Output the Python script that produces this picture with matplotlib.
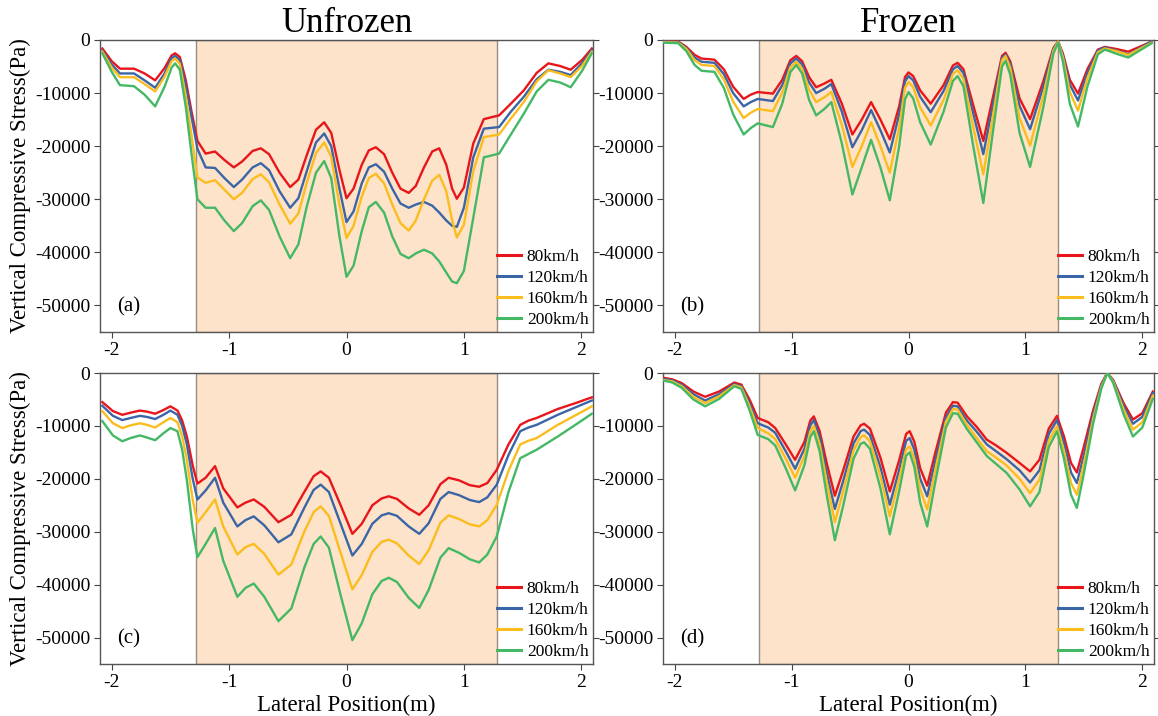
import matplotlib
matplotlib.use("Agg")
import matplotlib.pyplot as plt
from matplotlib.ticker import FixedLocator, FuncFormatter

plt.rcParams['font.family'] = ['Liberation Serif', 'DejaVu Serif']
plt.rcParams['axes.unicode_minus'] = False

speeds = ["80km/h", "120km/h", "160km/h", "200km/h"]
colors = ["#e8161b", "#3a65a6", "#fbbd1e", "#44b864"]
col_titles = ["Unfrozen", "Frozen"]
panel_tags = ["(a)", "(b)", "(c)", "(d)"]
x_ticks = [-2, -1, 0, 1, 2]
y_ticks = [0, -10000, -20000, -30000, -40000, -50000]
zone_half = 1.28

# ---- panel (a): unfrozen, upper ----
x_a = [-2.08, -2.00, -1.93, -1.81, -1.72, -1.63, -1.55, -1.49, -1.46, -1.42,
       -1.37, -1.32, -1.27, -1.20, -1.12, -1.04, -0.96, -0.89, -0.80, -0.73,
       -0.66, -0.57, -0.48, -0.41, -0.34, -0.26, -0.19, -0.13, -0.06, 0.00,
       0.06, 0.13, 0.19, 0.25, 0.32, 0.39, 0.46, 0.53, 0.59, 0.66,
       0.73, 0.79, 0.85, 0.90, 0.94, 1.00, 1.08, 1.17, 1.30, 1.40,
       1.51, 1.62, 1.72, 1.82, 1.91, 2.01, 2.09]
a_80 = [-1600, -4000, -5400, -5400, -6300, -7600, -5300, -2900, -2500, -3200,
        -7500, -13500, -19000, -21400, -21000, -22600, -24000, -22900, -20900, -20400,
        -21500, -25000, -27700, -26300, -21800, -16900, -15500, -17500, -24500, -29800,
        -28000, -23500, -20800, -20200, -21500, -25000, -28000, -28800, -27500, -24000,
        -21000, -20400, -23500, -28000, -29900, -27800, -19500, -14900, -14200, -12000,
        -9500, -6200, -4400, -4900, -5600, -3700, -1600]
a_120 = [-2000, -4600, -6300, -6300, -7600, -9000, -6300, -3400, -3000, -3800,
         -8500, -14500, -20500, -24000, -24100, -26000, -27700, -26300, -24000, -23200,
         -24500, -28500, -31600, -29800, -24800, -19300, -17600, -20000, -28000, -34300,
         -32300, -27000, -24000, -23400, -24800, -28000, -30800, -31600, -31000, -30500,
         -31200, -32500, -34000, -35000, -35200, -31600, -22100, -16700, -16400, -13500,
         -10700, -7400, -5600, -6000, -6600, -4300, -1900]
a_160 = [-2200, -5200, -7000, -7000, -8300, -9700, -6900, -4000, -3500, -4500,
         -10500, -18000, -25900, -26900, -26400, -28200, -30000, -28800, -26200, -25300,
         -26800, -31000, -34600, -32700, -27000, -21300, -19300, -22000, -31000, -37300,
         -35000, -29500, -26000, -25200, -27000, -31000, -34500, -35900, -34000, -30000,
         -26500, -25400, -28500, -34000, -37200, -34800, -24700, -18300, -17800, -14800,
         -11700, -7800, -5700, -6300, -7000, -4800, -2200]
a_200 = [-2500, -6000, -8500, -8700, -10300, -12500, -8800, -5200, -4400, -5600,
         -12500, -21500, -30000, -31600, -31600, -34000, -36000, -34500, -31300, -30200,
         -32000, -37000, -41100, -38500, -31500, -25000, -22800, -26000, -37000, -44600,
         -42500, -36000, -31500, -30500, -32500, -37000, -40300, -41100, -40200, -39500,
         -40200, -41700, -43800, -45500, -45800, -43500, -33500, -22100, -21400, -17800,
         -13900, -9700, -7500, -8000, -8900, -5700, -2500]

# ---- panel (b): frozen, upper ----
x_b = [-2.10, -1.97, -1.90, -1.83, -1.77, -1.66, -1.58, -1.50, -1.41, -1.35,
       -1.29, -1.16, -1.08, -1.01, -0.96, -0.91, -0.85, -0.79, -0.72, -0.66,
       -0.57, -0.48, -0.40, -0.32, -0.24, -0.16, -0.08, -0.03, 0.00, 0.04,
       0.10, 0.19, 0.30, 0.38, 0.42, 0.47, 0.55, 0.64, 0.73, 0.80,
       0.83, 0.87, 0.95, 1.04, 1.15, 1.24, 1.28, 1.32, 1.38, 1.45,
       1.53, 1.62, 1.68, 1.78, 1.88, 2.08]
b_80 = [-300, -300, -1300, -2800, -3500, -3700, -5500, -8800, -11100, -10300,
        -9800, -10100, -7500, -3800, -3000, -4000, -7000, -8900, -8200, -7500,
        -12000, -17800, -15000, -11700, -15000, -18700, -12500, -7000, -6100, -6800,
        -9500, -12000, -8500, -4800, -4300, -5500, -12000, -19000, -10000, -3000,
        -2400, -4000, -11000, -14900, -8000, -1500, -300, -2500, -7500, -10100,
        -5500, -1800, -1300, -1700, -2200, -300]
b_120 = [-300, -400, -1500, -3300, -4100, -4300, -6400, -10000, -12500, -11700,
         -11100, -11500, -8500, -4400, -3500, -4600, -8000, -10000, -9200, -8300,
         -13500, -20200, -17000, -13200, -17000, -21200, -14000, -7800, -6800, -7600,
         -10700, -13600, -9600, -5500, -4900, -6200, -13500, -21500, -11300, -3400,
         -2700, -4500, -12400, -16800, -9000, -1700, -300, -2800, -8400, -11400,
         -6200, -2000, -1400, -2000, -2700, -300]
b_160 = [-400, -500, -1700, -3800, -4700, -4900, -7400, -11600, -14700, -13700,
         -13000, -13400, -9900, -5100, -4100, -5400, -9400, -11700, -10800, -9800,
         -16000, -23900, -20000, -15500, -20000, -25000, -16500, -9000, -7900, -8900,
         -12700, -16100, -11300, -6400, -5700, -7300, -16000, -25300, -13300, -3800,
         -3000, -5200, -14700, -19900, -10700, -2000, -300, -3200, -9800, -13300,
         -7200, -2300, -1600, -2100, -2800, -500]
b_200 = [-500, -600, -2100, -4700, -5800, -6000, -9000, -14000, -17800, -16600,
         -15700, -16400, -12000, -6000, -4700, -6300, -11300, -14200, -13000, -11700,
         -19500, -29100, -24000, -18800, -24000, -30200, -20000, -11200, -9800, -11000,
         -15500, -19700, -13500, -7700, -6800, -8700, -19500, -30700, -16000, -5000,
         -3900, -6500, -17500, -23900, -13000, -2500, -500, -4000, -12000, -16300,
         -8800, -2700, -1800, -2600, -3300, -600]

# ---- panel (c): unfrozen, lower ----
x_c = [-2.08, -1.99, -1.91, -1.84, -1.76, -1.70, -1.63, -1.56, -1.50, -1.44,
       -1.40, -1.36, -1.31, -1.27, -1.20, -1.12, -1.05, -0.93, -0.86, -0.79,
       -0.70, -0.58, -0.47, -0.36, -0.28, -0.22, -0.15, -0.05, 0.05, 0.13,
       0.22, 0.30, 0.36, 0.43, 0.53, 0.62, 0.70, 0.80, 0.87, 0.96,
       1.05, 1.13, 1.20, 1.28, 1.38, 1.48, 1.55, 1.62, 1.80, 1.95,
       2.09]
c_80 = [-5500, -7200, -7900, -7500, -7100, -7300, -7700, -7000, -6300, -7100,
        -9000, -12000, -17500, -20900, -19800, -17600, -21800, -25400, -24500, -23900,
        -25300, -28200, -26800, -22500, -19500, -18600, -19800, -25000, -30400, -28500,
        -25000, -23700, -23300, -23800, -25600, -26800, -25000, -21000, -19800, -20300,
        -21200, -21500, -20800, -18300, -13500, -9800, -9000, -8500, -6800, -5700,
        -4600]
c_120 = [-6200, -8100, -8900, -8500, -8100, -8300, -8700, -7900, -7100, -7900,
         -10000, -13500, -20000, -23900, -22200, -19800, -24500, -29000, -27800, -27100,
         -28800, -32000, -30500, -25500, -22100, -21100, -22500, -28500, -34500, -32300,
         -28500, -26900, -26500, -27000, -29000, -30400, -28400, -23800, -22500, -23100,
         -24000, -24400, -23500, -21100, -15500, -11000, -10300, -9800, -7900, -6500,
         -5200]
c_160 = [-7200, -9500, -10400, -9900, -9500, -9800, -10300, -9300, -8500, -9300,
         -12000, -16400, -24000, -28300, -26300, -23900, -29000, -34300, -32900, -32300,
         -34200, -38100, -36200, -30000, -26300, -25200, -27000, -34000, -40900, -38200,
         -33800, -31900, -31500, -32200, -34500, -36100, -33500, -28300, -26900, -27600,
         -28600, -29000, -27800, -24900, -18500, -13500, -12800, -12300, -9800, -8000,
         -6300]
c_200 = [-9100, -11800, -12900, -12300, -11800, -12200, -12700, -11400, -10400, -11000,
         -14500, -20200, -29500, -34800, -32300, -29300, -35500, -42300, -40600, -39800,
         -42300, -46900, -44500, -36800, -32300, -30900, -33000, -42000, -50500, -47300,
         -41800, -39300, -38700, -39500, -42500, -44400, -41000, -34900, -33100, -34000,
         -35200, -35800, -34300, -30900, -22500, -16100, -15300, -14500, -12000, -9800,
         -7700]

# ---- panel (d): frozen, lower ----
x_d = [-2.10, -2.02, -1.94, -1.84, -1.74, -1.62, -1.49, -1.43, -1.36, -1.29,
       -1.20, -1.14, -1.05, -0.97, -0.89, -0.84, -0.81, -0.76, -0.70, -0.63,
       -0.56, -0.47, -0.41, -0.38, -0.33, -0.24, -0.16, -0.08, -0.02, 0.01,
       0.05, 0.10, 0.16, 0.23, 0.32, 0.38, 0.42, 0.50, 0.58, 0.67,
       0.75, 0.84, 0.95, 1.04, 1.12, 1.20, 1.27, 1.33, 1.39, 1.44,
       1.50, 1.58, 1.65, 1.70, 1.75, 1.84, 1.92, 2.00, 2.09]
d_80 = [-900, -1200, -1900, -3500, -4500, -3500, -1800, -2200, -5000, -8500,
        -9300, -10400, -13500, -16400, -13000, -9000, -8200, -11000, -17000, -23200,
        -18500, -12000, -9900, -9600, -10500, -16000, -22400, -16500, -11500, -11000,
        -13000, -18000, -21300, -15000, -7500, -5500, -5600, -8200, -10100, -12600,
        -13700, -15100, -17000, -18600, -16400, -10500, -8100, -12000, -17000, -18800,
        -13900, -7000, -2000, 0, -1300, -5700, -8800, -7600, -3500]
d_120 = [-1100, -1400, -2200, -4000, -5200, -4000, -2100, -2500, -5700, -9500,
         -10300, -11300, -14800, -18100, -14300, -9900, -8900, -12000, -18800, -25700,
         -20500, -13300, -11000, -10700, -11700, -17800, -24900, -18300, -12800, -12300,
         -14500, -20000, -23300, -16500, -8400, -6200, -6300, -9000, -11000, -13500,
         -14800, -16300, -18400, -20700, -18400, -11500, -8900, -13200, -18800, -20800,
         -15500, -7800, -2300, 0, -1400, -6200, -9600, -8300, -3800]
d_160 = [-1300, -1600, -2500, -4500, -5700, -4400, -2300, -2700, -6300, -10400,
         -11400, -12500, -16200, -19800, -15700, -11000, -10000, -13400, -20500, -28200,
         -22500, -14600, -12100, -11800, -12900, -19500, -27100, -20000, -14400, -13900,
         -16200, -22000, -25800, -18200, -9200, -6800, -6900, -9800, -12200, -14800,
         -16000, -17500, -20000, -22700, -20200, -12800, -10000, -14700, -20800, -23000,
         -17200, -8600, -2600, 0, -1600, -6900, -10700, -9300, -4300]
d_200 = [-1400, -1800, -2800, -5000, -6300, -4900, -2500, -3000, -7000, -11700,
         -12500, -13700, -18000, -22200, -17400, -12100, -11000, -14800, -23000, -31600,
         -25200, -16200, -13400, -13100, -14300, -21800, -30500, -22300, -15600, -15000,
         -17800, -24500, -29000, -20500, -10300, -7600, -7700, -10600, -13000, -15700,
         -17200, -18900, -22000, -25200, -22500, -14000, -11000, -16200, -23000, -25500,
         -19000, -9500, -2900, 0, -1800, -7800, -12000, -10300, -4900]

panels = [
    (x_a, [a_80, a_120, a_160, a_200]),
    (x_b, [b_80, b_120, b_160, b_200]),
    (x_c, [c_80, c_120, c_160, c_200]),
    (x_d, [d_80, d_120, d_160, d_200]),
]

W, H = 1158, 716
fig = plt.figure(figsize=(W / 100, H / 100), dpi=100)

lefts = [100, 663]
widths = [493, 491]
tops = [40, 373]
heights = [292, 291]

for i, (xs, series) in enumerate(panels):
    r, c = divmod(i, 2)
    ax = fig.add_axes([lefts[c] / W, 1 - (tops[r] + heights[r]) / H, widths[c] / W, heights[r] / H])
    ax.axvspan(-zone_half, zone_half, facecolor="#fde3c9", edgecolor="#9a8c80", linewidth=1.0, zorder=0)
    for vals, lab, colr in zip(series, speeds, colors):
        ax.plot(xs, vals, color=colr, lw=1.7, label=lab, zorder=3,
                solid_joinstyle="round")
    ax.set_xlim(-2.1, 2.1)
    ax.set_ylim(-55000, 0)
    ax.xaxis.set_major_locator(FixedLocator(x_ticks))
    ax.yaxis.set_major_locator(FixedLocator(y_ticks))
    ax.xaxis.set_major_formatter(FuncFormatter(lambda v, p: "%d" % round(v)))
    ax.yaxis.set_major_formatter(FuncFormatter(lambda v, p: "%d" % round(v)))
    ax.tick_params(axis="both", direction="out", length=4, width=0.8, color="#444444",
                   labelsize=14, pad=3)
    ax.tick_params(axis="y", right=True)
    for s in ax.spines.values():
        s.set_color("#555555")
        s.set_linewidth(1.0)
    ax.text(0.035, 0.085, panel_tags[i], transform=ax.transAxes, fontsize=15,
            ha="left", va="center")
    leg = ax.legend(loc="lower right", frameon=False, fontsize=12.5, handlelength=1.35,
                    handletextpad=0.35, labelspacing=0.28, borderaxespad=0.15,
                    borderpad=0.1)
    for ln in leg.get_lines():
        ln.set_linewidth(2.2)
    if r == 0:
        ax.set_title(col_titles[c], fontsize=25, pad=2)
    if c == 0:
        ax.set_ylabel("Vertical Compressive Stress(Pa)", fontsize=16.5, labelpad=3)
    if r == 1:
        ax.set_xlabel("Lateral Position(m)", fontsize=16.5, labelpad=3)

fig.savefig("out.png", dpi=100)
